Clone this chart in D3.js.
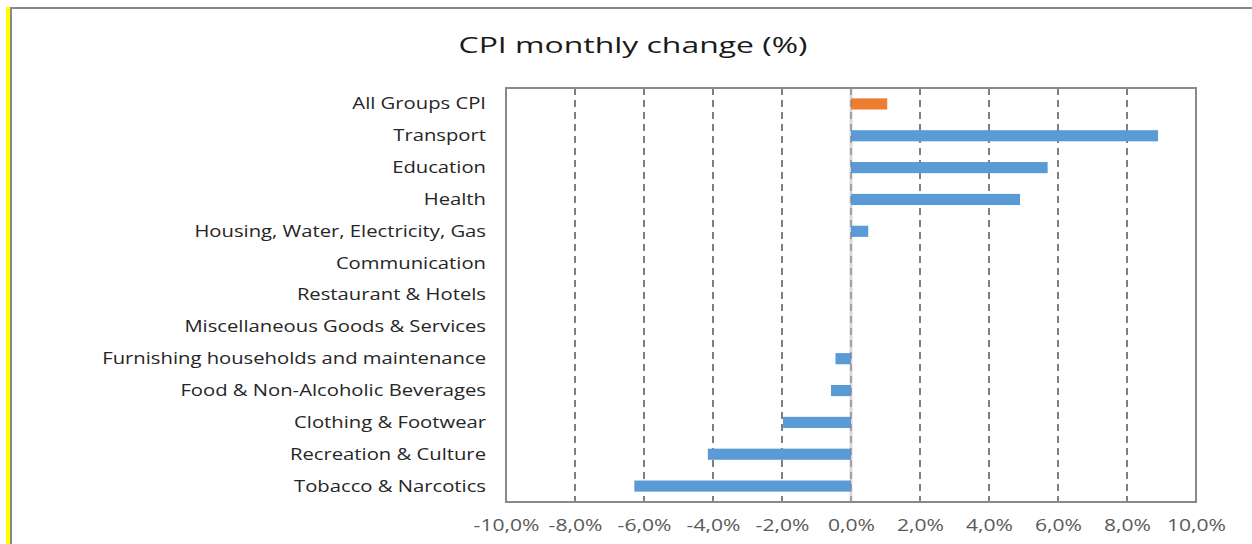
<!DOCTYPE html>
<html><head><meta charset="utf-8">
<script src="https://cdn.jsdelivr.net/npm/d3@7"></script>
<style>html,body{margin:0;padding:0;background:#fff;overflow:hidden}</style>
</head><body>
<script>
const categories = ["All Groups CPI","Transport","Education","Health","Housing, Water, Electricity, Gas","Communication","Restaurant & Hotels","Miscellaneous Goods & Services","Furnishing households and maintenance","Food & Non-Alcoholic Beverages","Clothing & Footwear","Recreation & Culture","Tobacco & Narcotics"];
const values = [1.05, 8.9, 5.7, 4.9, 0.5, 0, 0, 0, -0.45, -0.58, -1.97, -4.15, -6.28];
const tickValues = [-10,-8,-6,-4,-2,0,2,4,6,8,10];
const tickLabels = ["-10,0%","-8,0%","-6,0%","-4,0%","-2,0%","0,0%","2,0%","4,0%","6,0%","8,0%","10,0%"];
const title = "CPI monthly change (%)";

const W = 1252, H = 544;
const svg = d3.select("body").append("svg").attr("width", W).attr("height", H);
const font = "'Open Sans', sans-serif";

function stretch(sel, k) {
  sel.each(function() {
    const len = this.getComputedTextLength();
    d3.select(this).attr("textLength", len * k).attr("lengthAdjust", "spacingAndGlyphs");
  });
}

// outer decorations
svg.append("rect").attr("x",6).attr("y",7).attr("width",4).attr("height",H).attr("fill","#ffff00");
svg.append("rect").attr("x",10).attr("y",7).attr("width",W).attr("height",2).attr("fill","#888");
svg.append("rect").attr("x",10).attr("y",7).attr("width",2).attr("height",H).attr("fill","#888");

const L = 506, R = 1196, T = 88, B = 502;
const x = d3.scaleLinear().domain([-10,10]).range([L,R]);
const y = d3.scaleBand().domain(categories).range([T,B]).paddingInner(0.65).paddingOuter(0.325);

const t = svg.append("text").attr("x",633).attr("y",53).attr("text-anchor","middle")
  .attr("font-family",font).attr("font-size",22)
  .attr("fill","#1a1a1a").text(title);
stretch(t, 1.45);

// gridlines
svg.append("g").selectAll("line").data(tickValues.filter(v=>v>-10&&v<10)).join("line")
  .attr("x1",d=>x(d)).attr("x2",d=>x(d)).attr("y1",T).attr("y2",B)
  .attr("stroke",d=>d===0?"#d9d9d9":"#7f7f7f").attr("stroke-width",d=>d===0?3:2)
  .attr("stroke-dasharray",d=>d===0?null:"7,5");

// bars
svg.append("g").selectAll("rect").data(categories).join("rect")
  .attr("x",(d,i)=>x(Math.min(0,values[i])))
  .attr("width",(d,i)=>Math.abs(x(values[i])-x(0)))
  .attr("y",d=>y(d)).attr("height",y.bandwidth())
  .attr("fill",(d,i)=>i===0?"#ed7d31":"#5b9bd5");

// zero dashed overlay
svg.append("line").attr("x1",x(0)).attr("x2",x(0)).attr("y1",T).attr("y2",B)
  .attr("stroke","#7f7f7f").attr("stroke-width",2).attr("stroke-dasharray","7,5").attr("opacity",0.6);

// plot border
svg.append("rect").attr("x",L).attr("y",T).attr("width",R-L).attr("height",B-T)
  .attr("fill","none").attr("stroke","#898989").attr("stroke-width",2);

// x axis
const xAxis = d3.axisBottom(x).tickValues(tickValues).tickFormat((d,i)=>tickLabels[i]).tickSize(0).tickPadding(17);
const gx = svg.append("g").attr("transform",`translate(0,${B})`).call(xAxis);
gx.select(".domain").remove();
gx.selectAll("text").attr("font-family",font).attr("font-size",17).attr("fill","#595959");
stretch(gx.selectAll("text"), 1.24);

// y axis
const yAxis = d3.axisLeft(y).tickSize(0).tickPadding(20);
const gy = svg.append("g").attr("transform",`translate(${L},0)`).call(yAxis);
gy.select(".domain").remove();
gy.selectAll("text").attr("font-family",font).attr("font-size",17).attr("fill","#262626");
stretch(gy.selectAll("text"), 1.19);
</script>
</body></html>
